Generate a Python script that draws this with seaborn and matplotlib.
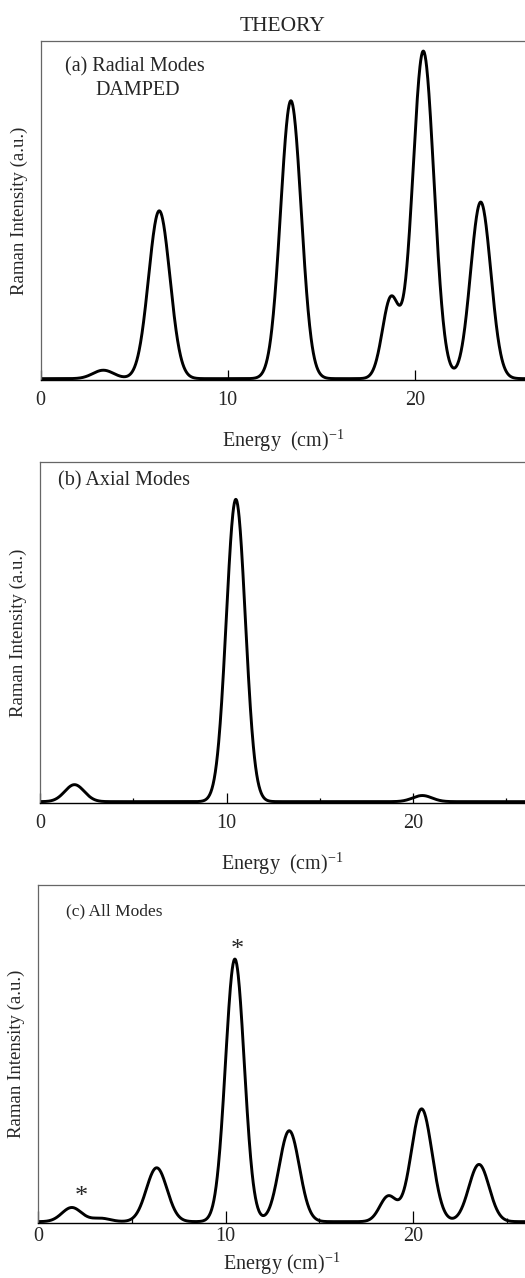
import numpy as np
import pandas as pd
import matplotlib.pyplot as plt
import seaborn as sns

# mode positions (cm^-1), peak heights (fraction of panel) and gaussian widths
radial_centers = [3.35, 6.34, 13.38, 18.72, 20.46, 23.53]
radial_heights = [0.025, 0.497, 0.823, 0.235, 0.97, 0.523]
radial_widths = [0.56, 0.57, 0.55, 0.45, 0.57, 0.54]

axial_centers = [1.85, 10.5, 20.5]
axial_heights = [0.05, 0.89, 0.018]
axial_widths = [0.52, 0.51, 0.52]

all_centers = [1.8, 3.35, 6.33, 10.5, 13.4, 18.68, 20.46, 23.52]
all_heights = [0.042, 0.01, 0.16, 0.78, 0.27, 0.075, 0.335, 0.17]
all_widths = [0.52, 0.5, 0.55, 0.5, 0.54, 0.45, 0.56, 0.54]

star_x = [2.33, 10.63]
star_y = [0.055, 0.79]

energy = np.linspace(0, 26, 1301)


def spectrum(centers, heights, widths):
    y = np.zeros_like(energy)
    for c, h, w in zip(centers, heights, widths):
        y += h * np.exp(-(energy - c) ** 2 / (2 * w ** 2))
    return pd.DataFrame({'energy': energy, 'intensity': y})


sns.set_theme(style='white')
plt.rcParams['font.family'] = ['Liberation Serif', 'DejaVu Serif']
plt.rcParams['mathtext.fontset'] = 'custom'
plt.rcParams['mathtext.rm'] = 'Liberation Serif'
plt.rcParams['mathtext.it'] = 'Liberation Serif:italic'

W, H = 525, 1278
fig = plt.figure(figsize=(W / 100, H / 100), dpi=100)

# (left px, bottom px, top px, px per unit, tick pad, label pad, major len, minor ticks)
panels = [
    (40.7, 380, 41, 18.7, 8, 13, 7, False),
    (40.0, 803, 462, 18.65, 8, 13, 7, True),
    (38.0, 1223, 885, 18.75, 3.0, 3.5, 8.5, True),
]
data = [
    spectrum(radial_centers, radial_heights, radial_widths),
    spectrum(axial_centers, axial_heights, axial_widths),
    spectrum(all_centers, all_heights, all_widths),
]
xlabels = ['Energy  (cm)$^{-1}$', 'Energy  (cm)$^{-1}$', 'Energy (cm)$^{-1}$']

axes = []
for (left, bot, top, scale, tpad, lpad, mlen, minor), df, xl in zip(panels, data, xlabels):
    ax = fig.add_axes([left / W, (H - bot) / H, 1 - left / W, (bot - top) / H])
    sns.lineplot(data=df, x='energy', y='intensity', ax=ax, color='black',
                 lw=2.1, estimator=None)
    ax.set_xlim(0, (W - left) / scale)
    ax.set_ylim(-0.004, 1.0)
    ax.set_yticks([])
    ax.set_xticks([0, 10, 20])
    ax.set_xticklabels(['0', '10', '20'], fontsize=14.5)
    if minor:
        ax.set_xticks([5, 15, 25], minor=True)
    ax.tick_params(axis='x', which='major', direction='in', length=mlen, width=0.9,
                   color='black', pad=tpad, bottom=True)
    ax.tick_params(axis='x', which='minor', direction='in', length=3.3, width=0.9,
                   color='black', bottom=True)
    ax.set_xlabel(xl, fontsize=14.5, labelpad=lpad)
    ax.set_ylabel('Raman Intensity (a.u.)', fontsize=13.5, va='center')
    ax.yaxis.set_label_coords(-0.045, 0.5)
    for side in ['top', 'left']:
        ax.spines[side].set_color('#666666')
        ax.spines[side].set_linewidth(0.9)
    ax.spines['bottom'].set_color('black')
    ax.spines['bottom'].set_linewidth(1.0)
    ax.spines['right'].set_visible(False)
    axes.append(ax)

ax_a, ax_b, ax_c = axes
ax_a.set_title('THEORY', fontsize=15.5, pad=7)
ax_a.text(0.05, 0.923, '(a) Radial Modes', transform=ax_a.transAxes,
          fontsize=14.5, ha='left', va='center')
ax_a.text(0.112, 0.855, 'DAMPED', transform=ax_a.transAxes,
          fontsize=14.5, ha='left', va='center')
ax_b.text(0.037, 0.944, '(b) Axial Modes', transform=ax_b.transAxes,
          fontsize=14.5, ha='left', va='center')
ax_c.text(0.057, 0.923, '(c) All Modes', transform=ax_c.transAxes,
          fontsize=12.5, ha='left', va='center')
for sx, sy in zip(star_x, star_y):
    ax_c.text(sx, sy, '*', fontsize=19, ha='center', va='baseline')

fig.savefig('out.png', dpi=100)
